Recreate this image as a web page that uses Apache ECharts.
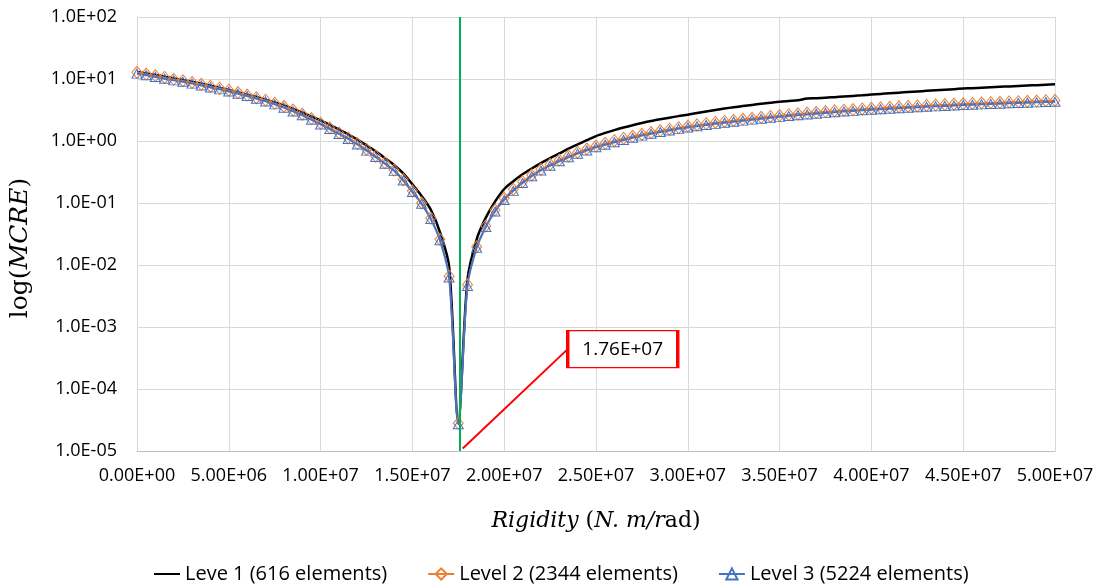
<!DOCTYPE html>
<html>
<head>
<meta charset="utf-8">
<script src="https://cdn.jsdelivr.net/npm/echarts@6/dist/echarts.min.js"></script>
<style>
  html, body { margin: 0; padding: 0; background: #fff; }
  #chart { width: 1102px; height: 585px; }
</style>
</head>
<body>
<div id="chart"></div>
<script>
// Rigidity sample points, in units of 1e6 N.m/rad
const rigidityMN = [
  0, 0.5, 1, 1.5, 2, 2.5, 3, 3.5, 4, 4.5, 5, 5.5, 6, 6.5, 7, 7.5, 8, 8.5, 9, 9.5,
  10, 10.5, 11, 11.5, 12, 12.5, 13, 13.5, 14, 14.5, 15, 15.5, 16, 16.5, 17, 17.5,
  18, 18.5, 19, 19.5, 20, 20.5, 21, 21.5, 22, 22.5, 23, 23.5, 24, 24.5, 25, 25.5,
  26, 26.5, 27, 27.5, 28, 28.5, 29, 29.5, 30, 30.5, 31, 31.5, 32, 32.5, 33, 33.5,
  34, 34.5, 35, 35.5, 36, 36.5, 37, 37.5, 38, 38.5, 39, 39.5, 40, 40.5, 41, 41.5,
  42, 42.5, 43, 43.5, 44, 44.5, 45, 45.5, 46, 46.5, 47, 47.5, 48, 48.5, 49, 49.5, 50
];

const level1 = [
  13.0, 12.3, 11.6, 10.9, 10.2, 9.6, 9.0, 8.4, 7.8, 7.2, 6.65, 6.1, 5.6, 5.1, 4.65, 4.2,
  3.75, 3.3, 2.9, 2.5, 2.15, 1.82, 1.53, 1.28, 1.05, 0.85, 0.68, 0.53, 0.41, 0.3, 0.2,
  0.13, 0.078, 0.034, 0.0095, 3.0e-5,
  0.0058, 0.026, 0.058, 0.105, 0.168, 0.225, 0.29, 0.36, 0.44, 0.53, 0.63, 0.75, 0.88,
  1.03, 1.2, 1.35, 1.5, 1.65, 1.8, 1.95, 2.1, 2.24, 2.38, 2.52, 2.66, 2.83, 3.0, 3.17,
  3.34, 3.5, 3.66, 3.82, 3.98, 4.14, 4.3, 4.42, 4.54, 4.85, 4.9, 4.98, 5.1, 5.22, 5.34,
  5.46, 5.6, 5.74, 5.88, 6.02, 6.16, 6.3, 6.44, 6.58, 6.72, 6.86, 7.0, 7.12, 7.24, 7.36,
  7.48, 7.6, 7.72, 7.84, 7.96, 8.08, 8.2
];

const level2 = [
  12.8, 12.0, 11.3, 10.6, 9.9, 9.4, 8.8, 8.2, 7.6, 7.1, 6.6, 6.05, 5.5, 5.0, 4.55, 4.05,
  3.6, 3.15, 2.7, 2.3, 1.93, 1.62, 1.35, 1.12, 0.91, 0.73, 0.57, 0.445, 0.34, 0.24, 0.157,
  0.1, 0.057, 0.026, 0.0066, 2.8e-5,
  0.0048, 0.0197, 0.0426, 0.077, 0.119, 0.166, 0.221, 0.283, 0.349, 0.42, 0.494, 0.573,
  0.656, 0.743, 0.83, 0.917, 1.01, 1.10, 1.19, 1.28, 1.37, 1.46, 1.55, 1.64, 1.73, 1.82,
  1.9, 1.99, 2.07, 2.15, 2.24, 2.32, 2.41, 2.49, 2.57, 2.66, 2.74, 2.82, 2.9, 2.98, 3.06,
  3.14, 3.21, 3.29, 3.36, 3.42, 3.49, 3.55, 3.61, 3.68, 3.74, 3.8, 3.86, 3.93, 3.99, 4.04,
  4.1, 4.15, 4.2, 4.26, 4.31, 4.36, 4.41, 4.47, 4.52
];

const level3 = [
  12.2, 11.5, 10.8, 10.1, 9.5, 9.0, 8.42, 7.85, 7.3, 6.8, 6.3, 5.8, 5.3, 4.8, 4.35, 3.9,
  3.45, 3.0, 2.6, 2.2, 1.85, 1.56, 1.3, 1.08, 0.88, 0.70, 0.55, 0.43, 0.33, 0.23, 0.15,
  0.097, 0.055, 0.025, 0.0063, 2.7e-5,
  0.0046, 0.019, 0.041, 0.073, 0.112, 0.157, 0.21, 0.27, 0.335, 0.40, 0.47, 0.545, 0.625,
  0.705, 0.79, 0.87, 0.955, 1.04, 1.13, 1.22, 1.31, 1.40, 1.48, 1.57, 1.65, 1.73, 1.81,
  1.89, 1.97, 2.05, 2.13, 2.21, 2.29, 2.37, 2.45, 2.53, 2.61, 2.68, 2.76, 2.84, 2.91, 2.99,
  3.06, 3.13, 3.2, 3.26, 3.32, 3.38, 3.44, 3.5, 3.56, 3.62, 3.68, 3.74, 3.8, 3.85, 3.9,
  3.95, 4.0, 4.05, 4.1, 4.15, 4.2, 4.25, 4.3
];

const seriesNames = ['Leve 1 (616 elements)', 'Level 2 (2344 elements)', 'Level 3 (5224 elements)'];

// Optimum rigidity marker and callout anchor (data coordinates)
const optimumRigidity = 1.76e7;
const calloutStart = [1.774e7, 1.1e-5];
const calloutEnd = [2.346e7, 4.4e-4];

function sci(v, d) {
  const s = Number(v).toExponential(d);
  const parts = s.split('e');
  const e = parseInt(parts[1], 10);
  const sign = e < 0 ? '-' : '+';
  return parts[0] + 'E' + sign + String(Math.abs(e)).padStart(2, '0');
}

const toPairs = arr => arr.map((v, i) => [rigidityMN[i] * 1e6, v]);

const FONT = 'Open Sans';
const chart = echarts.init(document.getElementById('chart'), null, { renderer: 'canvas' });

chart.setOption({
  animation: false,
  backgroundColor: '#ffffff',
  grid: { left: 136, right: 47, top: 17, bottom: 134, containLabel: false },
  legend: {
    data: seriesNames,
    left: 148,
    top: 559,
    itemGap: 40,
    itemWidth: 26,
    itemHeight: 14,
    textStyle: { fontFamily: FONT, fontSize: 20, color: '#000' }
  },
  xAxis: {
    type: 'value',
    min: 0,
    max: 5e7,
    interval: 5e6,
    name: '{i|Rigidity}{n| (}{i|N. m/r}{n|ad)}',
    nameLocation: 'middle',
    nameGap: 59,
    nameTextStyle: {
      rich: {
        i: { fontFamily: 'DejaVu Serif', fontStyle: 'italic', fontSize: 22, color: '#000' },
        n: { fontFamily: 'DejaVu Serif', fontSize: 22, color: '#000' }
      }
    },
    axisLine: { show: true, lineStyle: { color: '#BFBFBF', width: 1 } },
    axisTick: { show: false },
    axisLabel: {
      fontFamily: FONT, fontSize: 18, color: '#000', margin: 16,
      formatter: v => sci(v, 2)
    },
    splitLine: { show: true, lineStyle: { color: '#D9D9D9', width: 1 } }
  },
  yAxis: {
    type: 'log',
    logBase: 10,
    min: 1e-5,
    max: 100,
    interval: 1,
    name: '{n|log(}{i|MCRE}{n|)}',
    nameLocation: 'middle',
    nameRotate: 90,
    nameGap: 104,
    nameTextStyle: {
      padding: [0, 28, 0, 0],
      rich: {
        i: { fontFamily: 'DejaVu Serif', fontStyle: 'italic', fontSize: 25, color: '#000' },
        n: { fontFamily: 'DejaVu Serif', fontSize: 25, color: '#000' }
      }
    },
    axisLine: { show: true, lineStyle: { color: '#D9D9D9', width: 1 } },
    axisTick: { show: false },
    axisLabel: {
      fontFamily: FONT, fontSize: 18, color: '#000', margin: 20,
      formatter: v => sci(v, 1)
    },
    splitLine: { show: true, lineStyle: { color: '#D9D9D9', width: 1 } }
  },
  series: [
    {
      name: seriesNames[0],
      type: 'line',
      data: toPairs(level1),
      smooth: 0.3,
      showSymbol: false,
      symbol: 'none',
      lineStyle: { color: '#000000', width: 2.5 },
      itemStyle: { color: 'rgba(0,0,0,0)', borderWidth: 0 },
      emphasis: { disabled: true },
      markLine: {
        silent: true,
        symbol: 'none',
        label: { show: false },
        lineStyle: { color: '#00B050', width: 2, type: 'solid' },
        data: [{ xAxis: optimumRigidity }]
      }
    },
    {
      name: seriesNames[1],
      type: 'line',
      data: toPairs(level2),
      smooth: 0.3,
      symbol: 'diamond',
      symbolSize: [10, 12],
      lineStyle: { color: '#ED7D31', width: 1.5 },
      itemStyle: { color: 'rgba(255,255,255,0)', borderColor: '#ED7D31', borderWidth: 1 },
      emphasis: { disabled: true }
    },
    {
      name: seriesNames[2],
      type: 'line',
      data: toPairs(level3),
      smooth: 0.3,
      symbol: 'triangle',
      symbolSize: [10, 9],
      lineStyle: { color: '#4472C4', width: 2 },
      itemStyle: { color: 'rgba(255,255,255,0)', borderColor: '#4472C4', borderWidth: 1 },
      emphasis: { disabled: true },
      markLine: {
        silent: true,
        symbol: 'none',
        label: { show: false },
        lineStyle: { color: '#FF0000', width: 2, type: 'solid' },
        data: [[{ coord: calloutStart }, { coord: calloutEnd }]]
      },
      markPoint: {
        silent: true,
        data: [{
          coord: calloutEnd,
          symbol: 'rect',
          symbolSize: [110, 37],
          symbolOffset: [55, 0],
          itemStyle: { color: '#ffffff', borderColor: '#FF0000', borderWidth: 2 },
          label: {
            show: true,
            position: 'inside',
            formatter: sci(optimumRigidity, 2),
            fontFamily: FONT, fontSize: 19, color: '#000'
          }
        }]
      }
    }
  ]
});
</script>
</body>
</html>
